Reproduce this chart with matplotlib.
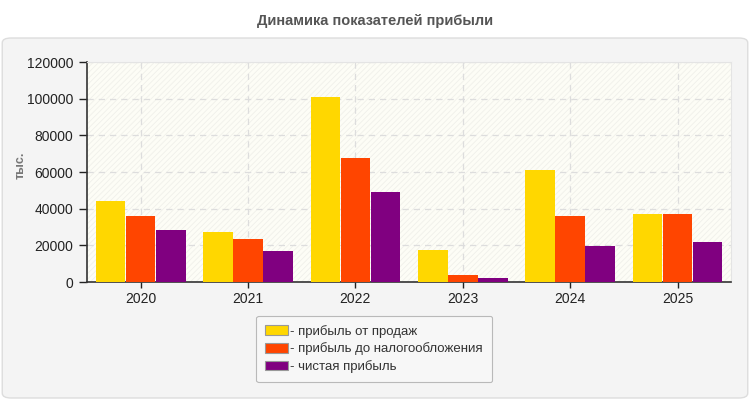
import numpy as np
import matplotlib
matplotlib.use("Agg")
import matplotlib.pyplot as plt
from matplotlib.patches import FancyBboxPatch, Rectangle, Patch

plt.rcParams['font.family'] = ['Liberation Sans', 'DejaVu Sans']
plt.rcParams['hatch.linewidth'] = 0.6

years = ['2020', '2021', '2022', '2023', '2024', '2025']
sales_profit = [44200, 27300, 101000, 17500, 61200, 37200]
pretax_profit = [36100, 23400, 67800, 3800, 36000, 37300]
net_profit = [28300, 16900, 49100, 2200, 19600, 21900]
series_names = ['- прибыль от продаж', '- прибыль до налогообложения', '- чистая прибыль']
colors = ['#ffd700', '#ff4500', '#800080']

fig = plt.figure(figsize=(7.5, 4), dpi=100)
fig.patch.set_facecolor('white')

# grey rounded panel behind the chart
panel = FancyBboxPatch((0.003, 0.005), 0.994, 0.9, boxstyle="round,pad=0,rounding_size=0.012",
                       transform=fig.transFigure, facecolor='#f4f4f4', edgecolor='#dddddd',
                       linewidth=1, zorder=-5)
fig.patches.append(panel)

fig.text(0.5, 0.948, 'Динамика показателей прибыли', ha='center', va='center',
         fontsize=10.5, fontweight='bold', color='#555555')

ax = fig.add_axes([0.116, 0.295, 0.859, 0.55])
ax.set_zorder(2)
ax.set_facecolor('#fdfdf6')
ax.add_patch(Rectangle((0, 0), 1, 1, transform=ax.transAxes, facecolor='none',
                       edgecolor='#f0f0ea', hatch='//////', linewidth=0, zorder=0))

x = np.arange(len(years))
w = 0.275
for i, (vals, c) in enumerate(zip([sales_profit, pretax_profit, net_profit], colors)):
    ax.bar(x + (i - 1) * (w + 0.005), vals, width=w, color=c, edgecolor='none', zorder=3)

ax.set_xlim(-0.5, len(years) - 0.5)
ax.set_ylim(0, 120000)
ax.set_yticks(np.arange(0, 120001, 20000))
ax.set_xticks(x)
ax.set_xticklabels(years)
ax.tick_params(labelsize=10, colors='#222222', length=4, width=1)
ax.tick_params(axis='y', length=6, pad=4)
ax.grid(True, color='#dddddd', linestyle=(0, (5, 4)), linewidth=0.9, zorder=1)

for s in ['top', 'right']:
    ax.spines[s].set_color('#e4e4e4')
for s in ['left', 'bottom']:
    ax.spines[s].set_color('#333333')
    ax.spines[s].set_linewidth(1.2)

ax.set_ylabel('тыс.', fontsize=9, fontweight='bold', color='#777777')
ax.yaxis.set_label_coords(-0.093, 0.53)

handles = [Patch(facecolor=c, edgecolor='#999999', linewidth=0.8) for c in colors]
leg = fig.legend(handles, series_names, loc='center', bbox_to_anchor=(0.499, 0.1275),
                 bbox_transform=fig.transFigure, fontsize=9.5, frameon=True, fancybox=True,
                 handlelength=1.7, handleheight=0.75, handletextpad=0.2, labelspacing=0.35,
                 borderpad=0.7, borderaxespad=0)
leg.get_frame().set_facecolor('#f8f8f8')
leg.get_frame().set_edgecolor('#aaaaaa')
leg.get_frame().set_linewidth(0.8)
for t in leg.get_texts():
    t.set_color('#333333')

fig.savefig('out.png', dpi=100)
